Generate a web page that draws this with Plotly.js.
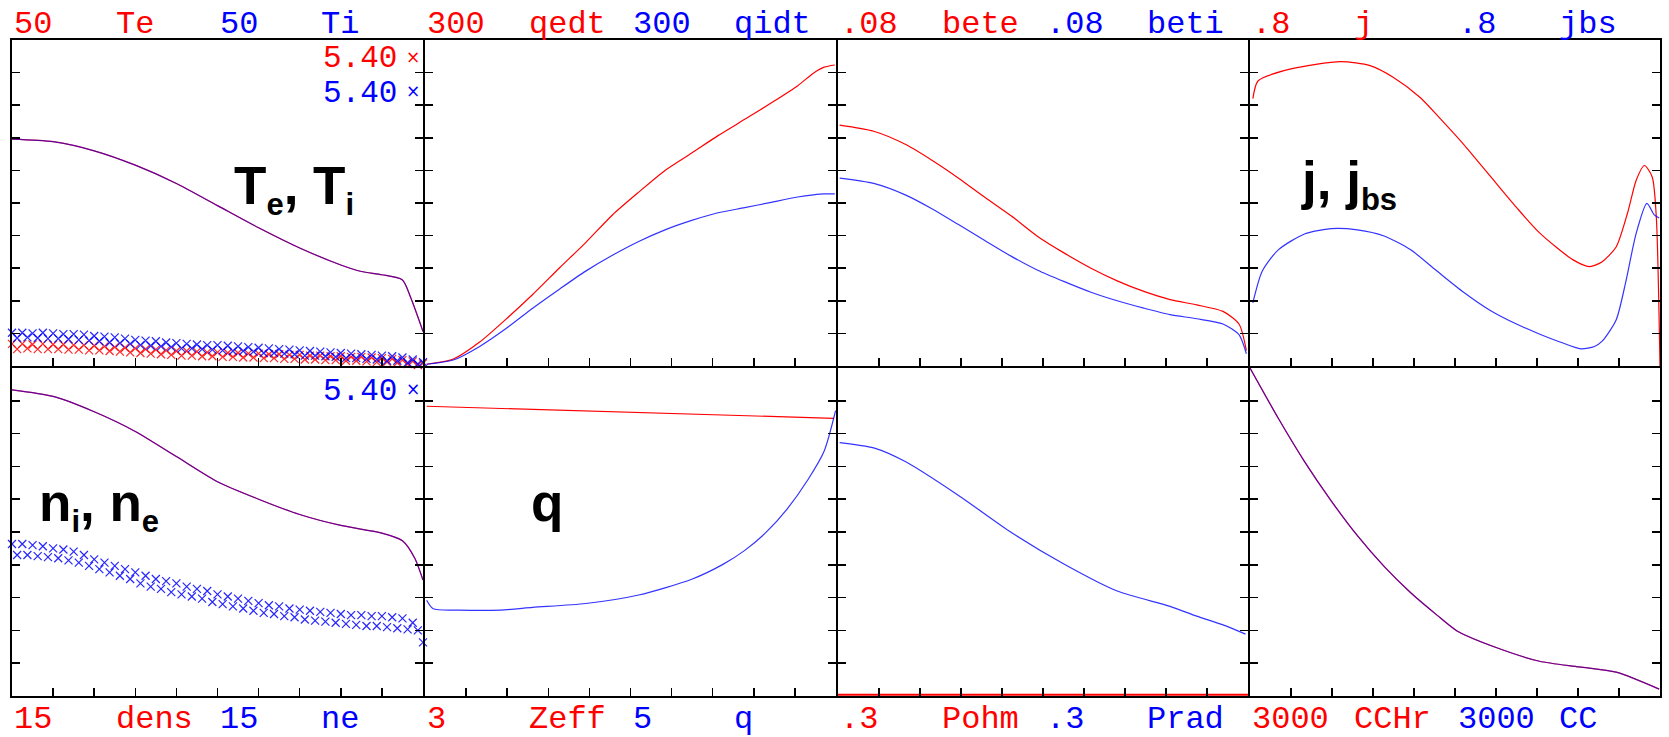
<!DOCTYPE html>
<html>
<head>
<meta charset="utf-8">
<script src="https://cdn.plot.ly/plotly-3.0.1.min.js"></script>
<style>html,body{margin:0;padding:0;background:#fff;}#chart{width:1669px;height:737px;}</style>
</head>
<body>
<div id="chart"></div>
<script>
// ---------------- DATA ----------------
// Panel 1: Te, Ti (model profiles overlap)
const tRho   = [0, 0.1, 0.2, 0.3, 0.4, 0.5, 0.6, 0.7, 0.8, 0.85, 0.9, 0.95, 0.97, 1.0];
const teModel = [34.8, 34.4, 33.0, 30.8, 28.0, 24.6, 21.2, 18.1, 15.5, 14.5, 14.0, 13.2, 10.5, 5.3];
const tiModel = [34.8, 34.4, 33.0, 30.8, 28.0, 24.6, 21.2, 18.1, 15.5, 14.5, 14.0, 13.2, 10.5, 5.3];
// measured points (x markers), two interleaved rows
const dataRhoA = [0,0.025,0.05,0.075,0.1,0.125,0.15,0.175,0.2,0.225,0.25,0.275,0.3,0.325,0.35,0.375,0.4,0.425,0.45,0.475,0.5,0.525,0.55,0.575,0.6,0.625,0.65,0.675,0.7,0.725,0.75,0.775,0.8,0.825,0.85,0.875,0.9,0.925,0.95,0.975,1.0];
const dataRhoB = [0.0125,0.0375,0.0625,0.0875,0.1125,0.1375,0.1625,0.1875,0.2125,0.2375,0.2625,0.2875,0.3125,0.3375,0.3625,0.3875,0.4125,0.4375,0.4625,0.4875,0.5125,0.5375,0.5625,0.5875,0.6125,0.6375,0.6625,0.6875,0.7125,0.7375,0.7625,0.7875,0.8125,0.8375,0.8625,0.8875,0.9125,0.9375,0.9625,0.9875];
const teDataA = [3.4,3.4,3.3,3.4,3.3,3.3,3.2,3.2,3.1,3.0,2.9,2.8,2.7,2.6,2.5,2.4,2.3,2.3,2.2,2.1,2.1,2.0,2.0,1.9,1.9,1.8,1.8,1.7,1.7,1.6,1.6,1.5,1.5,1.4,1.4,1.3,1.2,1.1,0.9,0.7,0.4];
const teDataB = [2.6,2.7,2.6,2.6,2.6,2.5,2.5,2.4,2.4,2.3,2.2,2.1,2.0,1.9,1.8,1.7,1.6,1.6,1.5,1.5,1.4,1.4,1.3,1.3,1.2,1.2,1.1,1.1,1.0,1.0,0.9,0.9,0.8,0.8,0.7,0.6,0.6,0.5,0.3,0.15];
const tiDataA = [5.1,5.1,5.0,5.1,5.0,4.9,4.9,4.8,4.6,4.5,4.4,4.2,4.0,3.9,3.8,3.6,3.5,3.4,3.3,3.2,3.2,3.1,3.0,2.9,2.8,2.7,2.6,2.5,2.4,2.3,2.2,2.1,2.0,1.9,1.8,1.7,1.6,1.5,1.3,1.0,0.6];
const tiDataB = [4.3,4.4,4.3,4.2,4.2,4.1,4.0,3.9,3.8,3.6,3.5,3.4,3.2,3.1,3.0,2.9,2.7,2.7,2.6,2.5,2.4,2.3,2.3,2.2,2.0,2.0,1.9,1.8,1.6,1.6,1.5,1.4,1.2,1.2,1.1,1.0,0.8,0.8,0.5,0.3];

// Panel 2: qedt, qidt
const qRho  = [0.004,0.069,0.133,0.198,0.262,0.327,0.391,0.456,0.520,0.584,0.649,0.713,0.778,0.842,0.907,0.945,0.971,0.997];
const qedt  = [1.6,6.4,22,43.4,65.8,90.2,113.6,139,160,180,196,212,227,242,258,269.5,275,277];
const qidt  = [1.6,5.5,18,34.7,53.2,70.7,87.3,101.9,114.6,125.3,134,141,145.7,150.6,155.5,157.5,158.4,158.4];

// Panel 3: bete, beti
const betRho = [0.004,0.087,0.164,0.229,0.294,0.358,0.423,0.487,0.552,0.617,0.681,0.746,0.810,0.875,0.939,0.978,0.996];
const bete   = [0.0591,0.0576,0.0544,0.0505,0.0461,0.0414,0.0368,0.0318,0.0277,0.0240,0.0209,0.0183,0.0163,0.0150,0.0134,0.0103,0.0038];
const beti   = [0.0461,0.0448,0.0420,0.0386,0.0347,0.0308,0.0269,0.0235,0.0207,0.0181,0.0160,0.0142,0.0126,0.0116,0.0103,0.0077,0.0030];

// Panel 4: j, jbs
const jRho   = [0.007,0.020,0.100,0.221,0.293,0.350,0.415,0.464,0.521,0.585,0.650,0.707,0.787,0.828,0.859,0.893,0.921,0.942,0.962,0.981,0.991,1.0];
const jTot   = [0.656,0.700,0.729,0.747,0.737,0.708,0.659,0.607,0.544,0.467,0.389,0.326,0.261,0.244,0.256,0.292,0.376,0.456,0.492,0.464,0.365,0.0];
const jbsRho = [0.007,0.030,0.069,0.133,0.198,0.262,0.327,0.392,0.456,0.521,0.585,0.650,0.707,0.756,0.807,0.840,0.859,0.893,0.916,0.942,0.968,0.986,0.998];
const jbs    = [0.155,0.233,0.285,0.324,0.337,0.334,0.319,0.285,0.233,0.181,0.137,0.103,0.078,0.059,0.042,0.048,0.061,0.113,0.204,0.326,0.399,0.371,0.363];

// Panel 5: dens, ne
const nRho    = [0, 0.1, 0.2, 0.3, 0.4, 0.5, 0.6, 0.7, 0.8, 0.9, 0.95, 0.98, 1.0];
const densMod = [14.0,13.7,13.0,12.1,10.95,9.8,9.0,8.3,7.8,7.45,7.1,6.3,5.3];
const neMod   = [14.0,13.7,13.0,12.1,10.95,9.8,9.0,8.3,7.8,7.45,7.1,6.3,5.3];
const neDataA = [6.95,6.95,6.9,6.85,6.75,6.7,6.6,6.45,6.25,6.1,5.95,5.8,5.65,5.5,5.35,5.25,5.15,5.0,4.9,4.8,4.65,4.55,4.45,4.35,4.25,4.15,4.1,4.0,3.95,3.9,3.85,3.8,3.75,3.7,3.7,3.65,3.65,3.6,3.55,3.35,2.45];
const neDataB = [6.45,6.45,6.4,6.35,6.3,6.2,6.1,5.95,5.8,5.65,5.5,5.35,5.15,5.0,4.9,4.75,4.65,4.55,4.45,4.3,4.2,4.1,4.0,3.9,3.8,3.75,3.65,3.6,3.5,3.45,3.4,3.35,3.3,3.25,3.2,3.2,3.15,3.1,3.05,3.0];

// Panel 6: Zeff, q
const zeffRho = [0.004, 0.995];
const zeff    = [2.65, 2.54];
const safRho  = [0.004,0.02,0.081,0.184,0.262,0.391,0.520,0.649,0.726,0.778,0.829,0.881,0.932,0.971,0.999];
const safQ    = [1.46,1.33,1.31,1.31,1.35,1.41,1.54,1.78,2.01,2.22,2.49,2.85,3.30,3.73,4.35];

// Panel 7: Pohm, Prad
const pohmRho = [0, 1];
const pohm    = [0, 0];
const pradRho = [0.004,0.087,0.164,0.294,0.423,0.552,0.681,0.810,0.875,0.939,0.994];
const prad    = [0.2318,0.2269,0.2144,0.1834,0.1495,0.1205,0.0960,0.0820,0.0730,0.0650,0.0566];

// Panel 8: CCHr, CC
const ccRho = [0,0.069,0.133,0.198,0.262,0.327,0.392,0.456,0.505,0.602,0.706,0.803,0.893,0.998];
const cchr  = [3000,2540,2144,1785,1466,1185,944,740,595,441,318,266,218,63];
const cc    = [3000,2540,2144,1785,1466,1185,944,740,595,441,318,266,218,63];

// axis maxima and edge labels
const yMax = [50, 300, 0.08, 0.8, 15, 3, 0.3, 3000];
const topLabels = [['50','Te','50','Ti'],['300','qedt','300','qidt'],['.08','bete','.08','beti'],['.8','j','.8','jbs']];
const bottomLabels = [['15','dens','15','ne'],['3','Zeff','5','q'],['.3','Pohm','.3','Prad'],['3000','CCHr','3000','CC']];
const timeLabel = '5.40';

// ---------------- LAYOUT ----------------
const RED = '#ff0000', BLUE = '#0000ff';
const W = 1669, H = 737;
const VX = [11, 424, 837, 1249, 1661];   // frame line centres (px)
const HY = [39, 367, 697];
const px = X => X / W;
const py = Y => 1 - Y / H;

const layout = {
  width: W, height: H,
  margin: {l: 0, r: 0, t: 0, b: 0, pad: 0},
  paper_bgcolor: '#fff', plot_bgcolor: 'rgba(0,0,0,0)',
  showlegend: false,
  annotations: []
};

for (let i = 0; i < 8; i++) {
  const col = i % 4, row = i < 4 ? 0 : 1;
  const xd = [px(VX[col] + 1), px(VX[col + 1] - 1)];
  const yd = [py(HY[row + 1] - 1), py(HY[row] + 1)];
  const n = i === 0 ? '' : String(i + 1);
  layout['xaxis' + n] = {
    domain: xd, range: [0, 1], anchor: 'y' + n,
    showline: true, linecolor: '#000', linewidth: 2, mirror: true,
    ticks: 'inside', ticklen: 8, tickwidth: 1.5, tickcolor: '#000',
    tick0: 0, dtick: 0.1, showticklabels: false,
    showgrid: false, zeroline: false, fixedrange: true
  };
  layout['yaxis' + n] = {
    domain: yd, range: [0, yMax[i]], anchor: 'x' + n,
    showline: true, linecolor: '#000', linewidth: 2, mirror: 'ticks',
    ticks: 'inside', ticklen: 8, tickwidth: 1.5, tickcolor: '#000',
    tick0: 0, dtick: yMax[i] / 10, showticklabels: false,
    showgrid: false, zeroline: false, fixedrange: true
  };
}
// secondary scale for q in panel 6
layout.yaxis9 = {overlaying: 'y6', anchor: 'x6', range: [0, 5], showline: false,
  ticks: '', showticklabels: false, showgrid: false, zeroline: false, fixedrange: true};
// hidden overlay for Pohm so its zero line sits on the frame edge
layout.yaxis10 = {overlaying: 'y7', anchor: 'x7', range: [-0.0012, 0.3], showline: false,
  ticks: '', showticklabels: false, showgrid: false, zeroline: false, fixedrange: true};

// ---------------- TRACES ----------------
function line(x, y, color, xa, ya, opacity, straight, width) {
  return {x: x, y: y, xaxis: xa, yaxis: ya, type: 'scatter', mode: 'lines',
    line: {color: color, width: width || 1.2, shape: straight ? 'linear' : 'spline', smoothing: 0.7},
    opacity: opacity || 1, hoverinfo: 'skip'};
}
function marks(x, y, color, xa, ya) {
  return {x: x, y: y, xaxis: xa, yaxis: ya, type: 'scatter', mode: 'markers', cliponaxis: false,
    marker: {symbol: 'x-thin', size: 8, line: {color: color, width: 1.2}}, opacity: 0.85, hoverinfo: 'skip'};
}
const traces = [
  line(tRho, teModel, RED, 'x', 'y'),
  line(tRho, tiModel, BLUE, 'x', 'y', 0.6),
  marks(dataRhoA, teDataA, RED, 'x', 'y'),
  marks(dataRhoB, teDataB, RED, 'x', 'y'),
  marks(dataRhoA, tiDataA, BLUE, 'x', 'y'),
  marks(dataRhoB, tiDataB, BLUE, 'x', 'y'),
  line(qRho, qedt, RED, 'x2', 'y2'),
  line(qRho, qidt, BLUE, 'x2', 'y2', 0.8),
  line(betRho, bete, RED, 'x3', 'y3'),
  line(betRho, beti, BLUE, 'x3', 'y3', 0.8),
  line(jRho, jTot, RED, 'x4', 'y4'),
  line(jbsRho, jbs, BLUE, 'x4', 'y4', 0.8),
  line(nRho, densMod, RED, 'x5', 'y5'),
  line(nRho, neMod, BLUE, 'x5', 'y5', 0.6),
  marks(dataRhoA, neDataA, BLUE, 'x5', 'y5'),
  marks(dataRhoB, neDataB, BLUE, 'x5', 'y5'),
  line(zeffRho, zeff, RED, 'x6', 'y6', 1, true),
  line(safRho, safQ, BLUE, 'x6', 'y9', 0.8),
  line(pohmRho, pohm, RED, 'x7', 'y10', 1, true, 2),
  line(pradRho, prad, BLUE, 'x7', 'y7', 0.8),
  line(ccRho, cchr, RED, 'x8', 'y8'),
  line(ccRho, cc, BLUE, 'x8', 'y8', 0.6)
];

// ---------------- TEXT ----------------
const MONO = 'Liberation Mono, Courier New, monospace';
const colors4 = [RED, RED, BLUE, BLUE];
const tokOff = [2, 104, 208, 309];
function monoText(text, X, Y, color, size) {
  layout.annotations.push({text: text, xref: 'paper', yref: 'paper', x: px(X), y: py(Y),
    xanchor: 'left', yanchor: 'middle', showarrow: false, borderpad: 0,
    font: {family: MONO, size: size || 32, color: color}});
}
for (let c = 0; c < 4; c++) {
  const left = VX[c];
  for (let k = 0; k < 4; k++) {
    monoText(topLabels[c][k], left + tokOff[k], 24.5, colors4[k]);
    monoText(bottomLabels[c][k], left + tokOff[k], 719.5, colors4[k]);
  }
}
monoText(timeLabel, 322, 58.5, RED, 31);
monoText(timeLabel, 322, 93.5, BLUE, 31);
monoText(timeLabel, 322, 391, BLUE, 31);
function cross(X, Y, color) {
  layout.annotations.push({text: '×', xref: 'paper', yref: 'paper', x: px(X), y: py(Y),
    xanchor: 'center', yanchor: 'middle', showarrow: false, borderpad: 0,
    font: {family: 'DejaVu Sans', size: 17, color: color}});
}
cross(413, 57, RED); cross(413, 91, BLUE); cross(413, 389, BLUE);

function bigText(text, X, Ytop) {
  layout.annotations.push({text: '<b>' + text + '</b>', xref: 'paper', yref: 'paper', x: px(X), y: py(Ytop),
    xanchor: 'left', yanchor: 'top', showarrow: false, borderpad: 0,
    font: {family: 'Liberation Sans, Arial, sans-serif', size: 53, color: '#000'}});
}
const sb = s => '<sub><span style="font-size:31px">' + s + '</span></sub>';
bigText('T' + sb('e') + ', T' + sb('i'), 233, 155);
bigText('j, j' + sb('bs'), 1300, 150);
bigText('n' + sb('i') + ', n' + sb('e'), 38, 472);
bigText('q', 530, 472);

Plotly.newPlot('chart', traces, layout, {staticPlot: true, displayModeBar: false});
</script>
</body>
</html>
